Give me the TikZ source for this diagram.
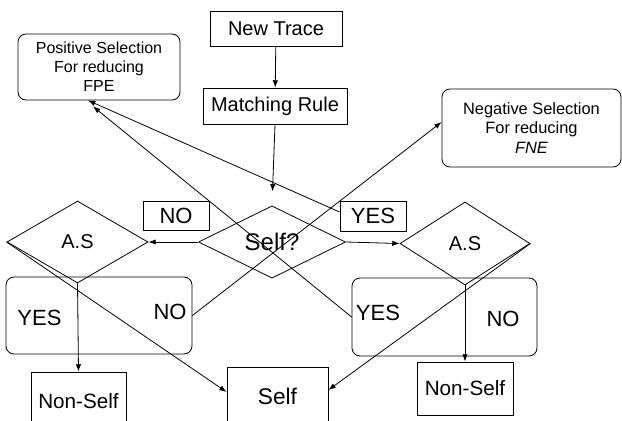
\documentclass[tikz,border=0pt]{standalone}
\usepackage{fontspec}
\setmainfont{Liberation Sans}
\usetikzlibrary{shapes.geometric}
\usetikzlibrary{arrows.meta}
\usetikzlibrary{calc}

\tikzset{
  boxnode/.style={draw, line width=0.6pt, inner sep=0pt, align=center},
  roundnode/.style={boxnode, rounded corners=6pt},
  decnode/.style={draw, diamond, line width=0.6pt, inner sep=0pt},
  link/.style={line width=0.6pt, -{Latex[length=5.5pt,width=4pt]}},
}

\begin{document}
\begin{tikzpicture}[x=0.75pt,y=0.75pt,yscale=-1,xscale=1]
  \useasboundingbox (0,0) rectangle (622,421); %page is 622 by 421
  \clip (0,0) rectangle (622,421);

  % Boxes top
  \node [boxnode, minimum width=99pt, minimum height=26.25pt, font=\fontsize{15}{18}\selectfont] (trace) at (276,28.5) {New Trace};
  \node [boxnode, minimum width=108pt, minimum height=27pt, font=\fontsize{15}{18}\selectfont] (match) at (275,106) {Matching Rule};
  \node [roundnode, minimum width=121.5pt, minimum height=49.5pt, font=\fontsize{12}{14.25}\selectfont] (pos) at (99,67) {Positive Selection\\For reducing\\FPE};
  \node [roundnode, minimum width=134.25pt, minimum height=58.5pt, font=\fontsize{12.3}{14.5}\selectfont] (neg) at (531.5,128) {Negative Selection\\For reducing\\\textit{FNE}};

  % Decisions
  \node [decnode, minimum width=110.25pt, minimum height=53.25pt, font=\fontsize{18}{21}\selectfont] (selfq) at (272,242) {Self?};
  \node [decnode, minimum width=105.75pt, minimum height=61.5pt, font=\fontsize{15}{18}\selectfont] (asl) at (77.5,242) {A.S};
  \node [decnode, minimum width=97.5pt, minimum height=62.25pt, font=\fontsize{15}{18}\selectfont] (asr) at (465,243.5) {A.S};

  % Text Node
  \node [boxnode, minimum width=49.5pt, minimum height=21.75pt, font=\fontsize{16.5}{19}\selectfont] (nolbl) at (176,215.5) {NO};
  % Text Node
  \node [boxnode, minimum width=49.5pt, minimum height=22.5pt, font=\fontsize{16.5}{19}\selectfont] (yeslbl) at (373,216) {YES};

  % Answer boxes
  \node [roundnode, minimum width=139.5pt, minimum height=57.75pt] (lbox) at (99,315.5) {};
  \node [roundnode, minimum width=138.75pt, minimum height=58.5pt] (rbox) at (444.5,317) {};
  \node [font=\fontsize{16.5}{19}\selectfont] (lyes) at (39.5,318) {YES};
  \node [font=\fontsize{16.5}{19}\selectfont] (lno) at (170,312) {NO};
  \node [font=\fontsize{16.5}{19}\selectfont] (ryes) at (378,313) {YES};
  \node [font=\fontsize{16.5}{19}\selectfont] (rno) at (503,319) {NO};

  % Results
  \node [boxnode, minimum width=71.25pt, minimum height=43.5pt, font=\fontsize{15.5}{18}\selectfont] (nsl) at (78.5,401) {Non-Self};
  \node [boxnode, minimum width=75.75pt, minimum height=43.5pt, font=\fontsize{17}{20}\selectfont] (self) at (277.5,396) {Self};
  \node [boxnode, minimum width=72pt, minimum height=39.75pt, font=\fontsize{15.5}{18}\selectfont] (nsr) at (465,388.5) {Non-Self};

  % Arrows
  \draw [link] (trace) -- (match);
  \draw [link, shorten >=10.5pt] (match.south) -- (selfq.north);
  \draw [link] (selfq.west) -- (asl.east);
  \draw [link] (selfq.east) -- (asr.west);
  \draw [link] (asl.south) -- (nsl.north);
  \draw [link] (asr.south) -- (nsr.north);
  \draw [link] (asl.west) -- ($(self.west)+(0,-4)$);
  \draw [link] (asr.east) -- ($(self.east)+(0,-6)$);
  \draw [link] ($(yeslbl.west)+(0,-4)$) -- ($(pos.south)+(-11,0)$);
  \draw [link] (rbox.west) -- ($(pos.south)+(-6,6)$);
  \draw [link] (lbox.east) -- ($(neg.west)+(0,-6)$);
\end{tikzpicture}
\end{document}
